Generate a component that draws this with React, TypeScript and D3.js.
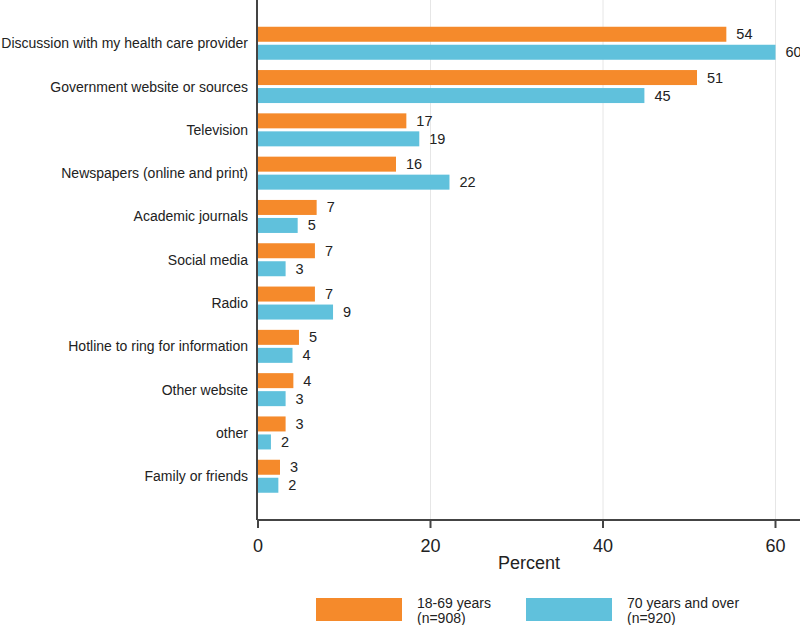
import React from "react";
import * as d3 from "d3";

const categories = [
  "Discussion with my health care provider",
  "Government website or sources",
  "Television",
  "Newspapers (online and print)",
  "Academic journals",
  "Social media",
  "Radio",
  "Hotline to ring for information",
  "Other website",
  "other",
  "Family or friends",
];
const younger = [54.3, 50.9, 17.2, 16.0, 6.8, 6.6, 6.6, 4.75, 4.1, 3.2, 2.55];
const older = [60.0, 44.8, 18.7, 22.2, 4.6, 3.2, 8.7, 4.0, 3.2, 1.5, 2.36];
const seriesNames = ["18-69 years", "70 years and over"];
const seriesNotes = ["(n=908)", "(n=920)"];
const xTicks = [0, 20, 40, 60];
const colors = ["#F58A2B", "#60C1DC"];

const W = 800;
const H = 625;
const FONT = "Arial, 'Liberation Sans', Helvetica, sans-serif";

export default function App() {
  const x = d3.scaleLinear().domain([0, 60]).range([258, 775.5]);
  const y = d3
    .scaleBand<string>()
    .domain(categories)
    .range([21.6, 21.6 + 43.3 * categories.length])
    .paddingInner(0)
    .paddingOuter(0);
  const barH = 15;
  const gap = 3;
  const axisY = 520;
  const series = [younger, older];

  return (
    <svg
      width={W}
      height={H}
      style={{ position: "absolute", left: 0, top: 0, background: "#fff" }}
      fontFamily={FONT}
    >
      <rect x={0} y={0} width={W} height={H} fill="#fff" />
      {xTicks
        .filter((t) => t > 0)
        .map((t) => (
          <line
            key={"g" + t}
            x1={x(t)}
            x2={x(t)}
            y1={0}
            y2={axisY}
            stroke="#e6e6e6"
            strokeWidth={1}
          />
        ))}
      {categories.map((c, i) => {
        const cy = (y(c) as number) + y.bandwidth() / 2;
        return (
          <g key={c}>
            <text
              x={248}
              y={cy}
              textAnchor="end"
              dominantBaseline="central"
              fontSize={14}
              fill="#222"
            >
              {c}
            </text>
            {series.map((s, k) => {
              const top = k === 0 ? cy - gap / 2 - barH : cy + gap / 2;
              return (
                <g key={k}>
                  <rect
                    x={x(0)}
                    y={top}
                    width={x(s[i]) - x(0)}
                    height={barH}
                    fill={colors[k]}
                  />
                  <text
                    x={x(s[i]) + 10}
                    y={top + barH / 2}
                    dominantBaseline="central"
                    fontSize={14.5}
                    fill="#222"
                  >
                    {Math.round(s[i])}
                  </text>
                </g>
              );
            })}
          </g>
        );
      })}
      <line x1={257} x2={257} y1={0} y2={axisY} stroke="#444" strokeWidth={2} />
      <line x1={257} x2={W} y1={axisY} y2={axisY} stroke="#444" strokeWidth={2} />
      {xTicks.map((t) => (
        <g key={"t" + t}>
          <line x1={x(t)} x2={x(t)} y1={axisY} y2={axisY + 8} stroke="#444" strokeWidth={2} />
          <text
            x={x(t)}
            y={axisY + 26}
            textAnchor="middle"
            dominantBaseline="central"
            fontSize={18}
            fill="#222"
          >
            {t}
          </text>
        </g>
      ))}
      <text
        x={529}
        y={563}
        textAnchor="middle"
        dominantBaseline="central"
        fontSize={18}
        fill="#222"
      >
        Percent
      </text>
      {seriesNames.map((n, k) => {
        const bx = k === 0 ? 316 : 526;
        return (
          <g key={n}>
            <rect x={bx} y={598} width={86} height={23} fill={colors[k]} />
            <text x={bx + 101} y={603} dominantBaseline="central" fontSize={14} fill="#222">
              {n}
            </text>
            <text x={bx + 101} y={617.5} dominantBaseline="central" fontSize={14} fill="#222">
              {seriesNotes[k]}
            </text>
          </g>
        );
      })}
    </svg>
  );
}
